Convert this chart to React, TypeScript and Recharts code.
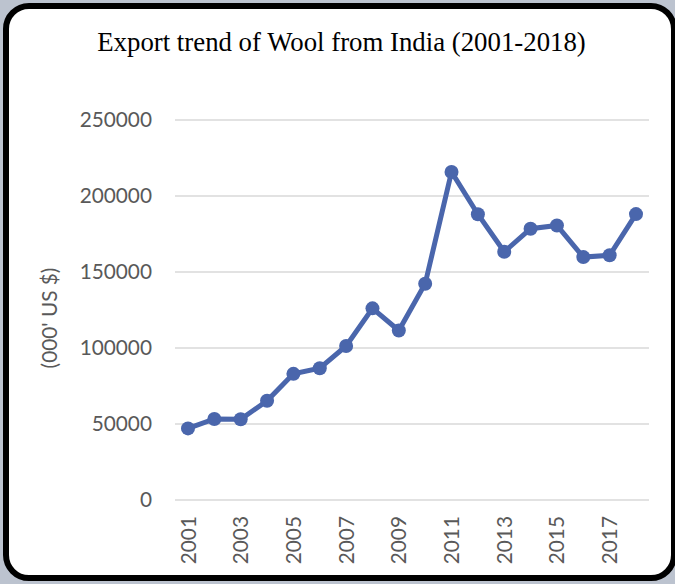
import { LineChart, Line, XAxis, YAxis, CartesianGrid } from "recharts";

const years = [
  "2001", "2002", "2003", "2004", "2005", "2006", "2007", "2008", "2009",
  "2010", "2011", "2012", "2013", "2014", "2015", "2016", "2017", "2018",
];
const exportValues = [
  47100, 53300, 53100, 65300, 83000, 86700, 101300, 126100, 111500,
  142300, 215800, 188000, 163300, 178500, 180600, 159800, 161000, 188100,
];
const yTicks = [0, 50000, 100000, 150000, 200000, 250000];

const LINE_COLOR = "#4A66AC";
const TICK_COLOR = "#595959";
const FONT = "Lato, 'Liberation Sans', sans-serif";

const data = years.map((year, i) => ({ year, value: exportValues[i] }));

// rotated year labels, reading bottom-to-top
function YearTick({ x, y, payload }: any) {
  return (
    <g transform={`translate(${x},${y})`}>
      <text
        transform="rotate(-90)"
        textAnchor="end"
        dy="0.36em"
        fill={TICK_COLOR}
        fontSize={20.8}
        fontFamily={FONT}
      >
        {payload.value}
      </text>
    </g>
  );
}

function AxisTitle({ viewBox }: any) {
  const cx = 49;
  const cy = viewBox.y + viewBox.height / 2 + 8;
  return (
    <text
      transform={`translate(${cx},${cy}) rotate(-90)`}
      textAnchor="middle"
      dy="0.36em"
      fill={TICK_COLOR}
      fontSize={20.8}
      fontFamily={FONT}
    >
      (000' US $)
    </text>
  );
}

export default function App() {
  return (
    <div
      style={{
        position: "absolute",
        left: 0,
        top: 0,
        width: 675,
        height: 584,
        background: "#bcc3cf",
        overflow: "hidden",
      }}
    >
      <div
        style={{
          position: "absolute",
          left: 3,
          top: 3,
          width: 674,
          height: 578,
          boxSizing: "border-box",
          border: "6px solid #000",
          borderRadius: 26,
          background: "#fff",
        }}
      />

      {/* Title */}
      <div
        style={{
          position: "absolute",
          left: 4,
          top: 27,
          width: 675,
          textAlign: "center",
          fontFamily: "'Liberation Serif', 'Times New Roman', serif",
          fontSize: 26.8,
          lineHeight: "30px",
          color: "#000",
        }}
      >
        Export trend of Wool from India (2001-2018)
      </div>

      <div style={{ position: "absolute", left: 0, top: 0 }}>
        <LineChart
          width={675}
          height={584}
          data={data}
          margin={{ top: 120, right: 26, bottom: 0, left: 75 }}
        >
          <CartesianGrid vertical={false} stroke="#d9d9d9" strokeWidth={1.5} />
          <XAxis
            dataKey="year"
            interval={1}
            padding={{ left: 13, right: 13 }}
            axisLine={false}
            tickLine={false}
            tickSize={0}
            tickMargin={16}
            height={84}
            tick={<YearTick />}
          />
          <YAxis
            domain={[0, 250000]}
            ticks={yTicks}
            width={100}
            axisLine={false}
            tickLine={false}
            tickSize={0}
            tickMargin={23}
            tick={{ fill: TICK_COLOR, fontSize: 20.8, fontFamily: FONT }}
            label={<AxisTitle />}
          />
          <Line
            type="linear"
            dataKey="value"
            stroke={LINE_COLOR}
            strokeWidth={5}
            dot={{ r: 7, fill: LINE_COLOR, stroke: "none" }}
            isAnimationActive={false}
          />
        </LineChart>
      </div>
    </div>
  );
}
